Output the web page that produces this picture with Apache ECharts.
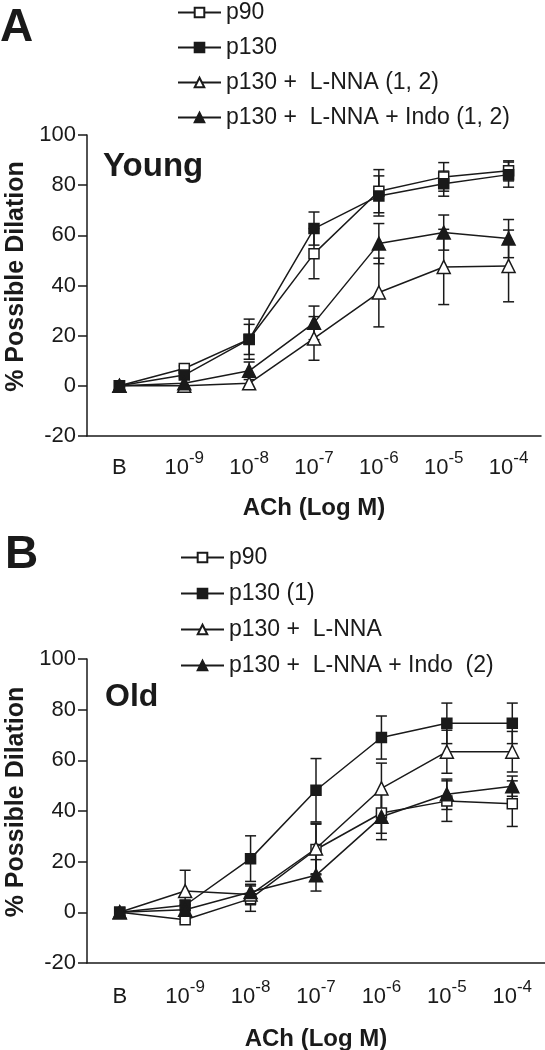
<!DOCTYPE html>
<html>
<head>
<meta charset="utf-8">
<script src="https://cdn.jsdelivr.net/npm/echarts@6/dist/echarts.min.js"></script>
<style>html,body{margin:0;padding:0;background:#fff;}#c{width:545px;height:1050px;}</style>
</head>
<body>
<div id="c"></div>
<script>
// ---- data ----
const categories = ['B', '10^-9', '10^-8', '10^-7', '10^-6', '10^-5', '10^-4'];
const yTicks = [-20, 0, 20, 40, 60, 80, 100];

// Panel A (Young)
const youngP90 = [0, 6.9, 18.6, 52.7, 77.6, 83.3, 85.7];
const youngP90Err = [0, 1, 8, 10, 8.6, 5.7, 4];
const youngP130 = [0, 4.3, 18.5, 62.7, 75.7, 80.6, 84.2];
const youngP130Err = [0, 1, 6, 6.6, 8, 5, 5];
const youngLNNA = [0, 0, 1, 18.9, 37.2, 47.4, 47.8];
const youngLNNAErr = [0, 0, 0, 8.7, 13.7, 15, 14.3];
const youngIndo = [0, 1, 6, 25.1, 56.7, 61.1, 58.7];
const youngIndoErr = [0, 0, 3.5, 6.7, 8, 7, 7.6];

// Panel B (Old)
const oldP90 = [0, -2.9, 5.4, 24.8, 39.2, 43.9, 42.9];
const oldP90Err = [0, 1, 5, 10, 8, 8, 9];
const oldP130 = [0, 2.8, 21.2, 48.2, 69, 74.6, 74.6];
const oldP130Err = [0, 2, 9, 12.5, 8.5, 8, 8];
const oldLNNA = [0, 8.4, 7, 25.2, 48.9, 63.4, 63.4];
const oldLNNAErr = [0, 8.2, 4, 10, 10, 8.5, 8];
const oldIndo = [0, 1, 8, 14.6, 37.7, 46.6, 49.8];
const oldIndoErr = [0, 2, 3, 6.2, 9, 6, 4];

const namesA = ['p90', 'p130', 'p130 +  L-NNA (1, 2)', 'p130 +  L-NNA + Indo (1, 2)'];
const namesB = ['p90 ', 'p130 (1)', 'p130 +  L-NNA', 'p130 +  L-NNA + Indo  (2)'];

// ---- styling ----
const FONT = '"Liberation Sans", Arial, sans-serif';
const INK = '#1a1a1a';
const markerStyles = [
  { symbol: 'rect', size: 10, fill: '#fff' },
  { symbol: 'rect', size: 10, fill: INK },
  { symbol: 'triangle', size: 13, fill: '#fff' },
  { symbol: 'triangle', size: 13, fill: INK }
];

function xLabelFormatter(v) {
  if (v === 'B') return '{b|B}';
  const parts = v.split('^');
  return '{b|' + parts[0] + '}{s|' + parts[1] + '}';
}

function makeXAxis(gridIndex, gap, margin) {
  return {
    type: 'category', gridIndex: gridIndex, data: categories, boundaryGap: true,
    axisLine: { onZero: false, lineStyle: { color: INK, width: 1.5 } },
    axisTick: { alignWithLabel: true, interval: 0, length: 6, lineStyle: { color: INK, width: 1.5 } },
    axisLabel: {
      interval: 0, formatter: xLabelFormatter, color: INK, fontFamily: FONT, fontSize: 22, margin: margin,
      rich: {
        b: { fontSize: 22, fontFamily: FONT, color: INK, lineHeight: 29, verticalAlign: 'bottom' },
        s: { fontSize: 17, fontFamily: FONT, color: INK, lineHeight: 29, verticalAlign: 'top' }
      }
    },
    name: 'ACh (Log M)', nameLocation: 'middle', nameGap: gap,
    nameTextStyle: { fontFamily: FONT, fontWeight: 'bold', fontSize: 24, color: INK },
    splitLine: { show: false }
  };
}
function makeYAxis(gridIndex) {
  return {
    type: 'value', gridIndex: gridIndex, min: yTicks[0], max: yTicks[yTicks.length - 1], interval: 20,
    axisLine: { show: true, lineStyle: { color: INK, width: 1.5 } },
    axisTick: { show: true, length: 9, lineStyle: { color: INK, width: 1.5 } },
    axisLabel: { color: INK, fontFamily: FONT, fontSize: 22, margin: 11 },
    splitLine: { show: false },
    name: '% Possible Dilation', nameLocation: 'middle', nameGap: 56,
    nameTextStyle: { fontFamily: FONT, fontWeight: 'bold', fontSize: 25, color: INK, padding: [0, 0, 0, 18] }
  };
}

function lineSeries(name, data, idx, gridIdx) {
  const m = markerStyles[idx];
  return {
    type: 'line', name: name, data: data, xAxisIndex: gridIdx, yAxisIndex: gridIdx,
    symbol: m.symbol, symbolSize: m.size, showAllSymbol: true, z: 5 + idx,
    lineStyle: { color: INK, width: 1.5 },
    itemStyle: { color: m.fill, borderColor: INK, borderWidth: 1.5, opacity: 1 },
    emphasis: { disabled: true }, animation: false
  };
}
function errSeries(name, vals, errs, gridIdx) {
  const d = vals.map((v, i) => [i, v - errs[i], v + errs[i], errs[i]]);
  return {
    type: 'custom', name: name + ' err', xAxisIndex: gridIdx, yAxisIndex: gridIdx, z: 2,
    data: d, encode: { x: 0, y: [1, 2] }, animation: false, silent: true,
    renderItem: function (params, api) {
      if (api.value(3) <= 0) return null;
      const lo = api.coord([api.value(0), api.value(1)]);
      const hi = api.coord([api.value(0), api.value(2)]);
      const w = 5.5;
      const st = { stroke: INK, lineWidth: 1.5 };
      return {
        type: 'group', children: [
          { type: 'line', shape: { x1: lo[0], y1: lo[1], x2: hi[0], y2: hi[1] }, style: st },
          { type: 'line', shape: { x1: lo[0] - w, y1: lo[1], x2: lo[0] + w, y2: lo[1] }, style: st },
          { type: 'line', shape: { x1: hi[0] - w, y1: hi[1], x2: hi[0] + w, y2: hi[1] }, style: st }
        ]
      };
    }
  };
}

const seriesA = [[youngP90, youngP90Err], [youngP130, youngP130Err], [youngLNNA, youngLNNAErr], [youngIndo, youngIndoErr]];
const seriesB = [[oldP90, oldP90Err], [oldP130, oldP130Err], [oldLNNA, oldLNNAErr], [oldIndo, oldIndoErr]];

const series = [];
seriesA.forEach((s, i) => { series.push(errSeries(namesA[i], s[0], s[1], 0)); });
seriesB.forEach((s, i) => { series.push(errSeries(namesB[i], s[0], s[1], 1)); });
seriesA.forEach((s, i) => { series.push(lineSeries(namesA[i], s[0], i, 0)); });
seriesB.forEach((s, i) => { series.push(lineSeries(namesB[i], s[0], i, 1)); });

function makeLegend(names, left, top, gap) {
  return {
    data: names, orient: 'vertical', left: left, top: top, itemGap: gap, padding: 0,
    itemWidth: 43, itemHeight: 12, selectedMode: false,
    textStyle: { fontFamily: FONT, fontSize: 23, lineHeight: 23, color: INK }
  };
}

const chart = echarts.init(document.getElementById('c'), null, { renderer: 'canvas' });
chart.setOption({
  backgroundColor: '#fff',
  animation: false,
  grid: [
    { left: 87, top: 135, width: 454, height: 301, containLabel: false, outerBoundsMode: 'none' },
    { left: 87, top: 659, width: 458, height: 304, containLabel: false, outerBoundsMode: 'none' }
  ],
  xAxis: [makeXAxis(0, 60, 14), makeXAxis(1, 64, 16)],
  yAxis: [makeYAxis(0), makeYAxis(1)],
  legend: [makeLegend(namesA, 177, 1, 12), makeLegend(namesB, 180, 546, 13)],
  graphic: [
    { type: 'text', left: 0, top: 5, style: { text: 'A', font: 'bold 46px ' + FONT, fill: INK } },
    { type: 'text', left: 5, top: 532, style: { text: 'B', font: 'bold 46px ' + FONT, fill: INK } },
    { type: 'text', left: 103, top: 150, style: { text: 'Young', font: 'bold 33px ' + FONT, fill: INK } },
    { type: 'text', left: 105, top: 681, style: { text: 'Old', font: 'bold 32px ' + FONT, fill: INK } }
  ],
  series: series
});
</script>
</body>
</html>
